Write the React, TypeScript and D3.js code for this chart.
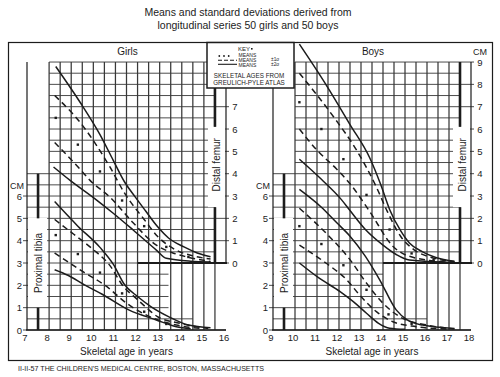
import React from 'react';
import * as d3 from 'd3';

type Pt = [number, number];

// ---------- data ----------
const girlsYears = [7, 8, 9, 10, 11, 12, 13, 14, 15, 16];
const boysYears = [9, 10, 11, 12, 13, 14, 15, 16, 17, 18];
const tibiaTicks = [0, 1, 2, 3, 4, 5, 6];
const girlsFemurTicks = [0, 1, 2, 3, 4, 5, 6, 7];
const boysFemurTicks = [0, 1, 2, 3, 4, 5, 6, 7, 8, 9];

// Girls, distal femur (skeletal age, cm)
const gFemP2: Pt[] = [[8.3, 8.8], [9.4, 7.2], [10.3, 5.75], [10.9, 4.6], [11.4, 3.65], [11.9, 2.95], [12.35, 2.35], [12.9, 1.63], [13.4, 1.12], [14.1, 0.72], [14.7, 0.45], [15.3, 0.28]];
const gFemP1: Pt[] = [[8.25, 7.5], [9.4, 6.3], [10.75, 4.3], [11.4, 3.15], [12.3, 1.95], [12.9, 1.2], [13.7, 0.6], [14.5, 0.32], [15.3, 0.18]];
const gFemMean: Pt[] = [[8.3, 6.5], [9.3, 5.3], [10.3, 4.1], [11.3, 2.8], [12.3, 1.65], [13.3, 0.72], [14.3, 0.27]];
const gFemM1: Pt[] = [[8.25, 5.4], [9.4, 4.2], [9.85, 3.7], [10.75, 2.95], [11.8, 1.8], [12.85, 0.8], [13.6, 0.45], [14.2, 0.28], [15.3, 0.07]];
const gFemM2: Pt[] = [[8.2, 4.3], [8.95, 3.7], [10.15, 2.82], [10.9, 2.23], [11.8, 1.48], [12.85, 0.58], [13.3, 0.21], [14.4, 0.08], [15.3, 0.05]];

// Girls, proximal tibia
const gTibP2: Pt[] = [[8.25, 5.75], [9.3, 4.65], [10.3, 3.7], [10.9, 2.95], [11.4, 2.05], [12.0, 1.5], [12.6, 1.05], [13.4, 0.6], [14.3, 0.22], [15.3, 0.1]];
const gTibP1: Pt[] = [[8.25, 4.95], [9.1, 4.3], [10.0, 3.6], [10.7, 2.95], [11.4, 1.9], [11.9, 1.45], [12.4, 1.0], [12.9, 0.6], [13.9, 0.3], [15.2, 0.07]];
const gTibMean: Pt[] = [[8.3, 4.25], [9.3, 3.4], [10.3, 2.57], [11.3, 1.64], [12.3, 0.82], [13.3, 0.27]];
const gTibM1: Pt[] = [[8.25, 3.45], [9.55, 2.6], [10.6, 1.95], [11.5, 1.2], [12.55, 0.6], [13.75, 0.22], [14.8, 0.08]];
const gTibM2: Pt[] = [[8.25, 2.7], [8.85, 2.45], [9.6, 2.02], [10.4, 1.6], [11.6, 0.9], [12.85, 0.45], [13.75, 0.15], [14.4, 0.06]];

// Boys, distal femur
const bFemP2: Pt[] = [[10.2, 9.8], [11.4, 8.0], [12.5, 6.2], [13.4, 4.7], [13.9, 3.5], [14.3, 2.4], [14.8, 1.45], [15.2, 0.9], [15.8, 0.5], [16.4, 0.25], [17.25, 0.08]];
const bFemP1: Pt[] = [[10.2, 8.5], [11.75, 6.55], [12.8, 5.05], [13.7, 3.4], [14.2, 2.3], [14.8, 1.2], [15.4, 0.6], [16.2, 0.25], [17.25, 0.06]];
const bFemMean: Pt[] = [[10.2, 7.2], [11.2, 6.0], [12.2, 4.65], [13.25, 3.05], [14.3, 1.5], [15.3, 0.43], [16.3, 0.13]];
const bFemM1: Pt[] = [[10.2, 6.0], [11.0, 5.05], [11.9, 4.2], [12.5, 3.55], [13.4, 2.3], [14.45, 0.75], [15.5, 0.22], [17.25, 0.02]];
const bFemM2: Pt[] = [[10.2, 4.65], [11.2, 3.75], [12.1, 2.85], [12.5, 2.35], [13.2, 1.5], [14.0, 0.8], [14.6, 0.38], [15.2, 0.13], [17.25, 0.02]];

// Boys, proximal tibia
const bTibP2: Pt[] = [[10.2, 6.3], [11.2, 5.5], [11.9, 4.8], [12.5, 4.2], [13.2, 3.3], [13.85, 2.25], [14.6, 0.9], [15.1, 0.45], [15.8, 0.22], [17.25, 0.07]];
const bTibP1: Pt[] = [[10.2, 5.45], [11.4, 4.35], [12.5, 3.15], [13.25, 2.1], [14.0, 1.2], [14.75, 0.6], [16.0, 0.22], [17.25, 0.05]];
const bTibMean: Pt[] = [[10.2, 4.65], [11.2, 3.85], [12.2, 2.9], [13.25, 1.8], [14.25, 0.7], [15.3, 0.28]];
const bTibM1: Pt[] = [[10.2, 3.8], [11.4, 3.0], [12.35, 2.25], [12.95, 1.55], [13.7, 0.82], [14.45, 0.37], [15.5, 0.15], [17.0, 0.04]];
const bTibM2: Pt[] = [[10.2, 3.0], [11.1, 2.32], [12.05, 1.72], [12.65, 1.27], [13.25, 0.75], [13.8, 0.3], [14.3, 0.08], [15.0, 0.03]];

const FEMUR_OFFSET = 3; // femur 0 sits at tibia 3 cm

const FONT = "'Liberation Sans', Arial, Helvetica, sans-serif";
const INK = '#1c1c1c';

const yT = d3.scaleLinear().domain([0, 12]).range([330, 330 - 12 * 22.33]);

interface Group { p2: Pt[]; p1: Pt[]; mean: Pt[]; m1: Pt[]; m2: Pt[] }
interface PanelProps {
  title: string;
  years: number[];
  range: [number, number];
  femur: Group;
  tibia: Group;
  femurTicks: number[];
  femurCM: boolean;
  tibiaShortEnd: number;
  tibiaHalfEnd: number;
}

function Panel({ title, years, range, femur, tibia, femurTicks, femurCM, tibiaShortEnd, tibiaHalfEnd }: PanelProps) {
  const F = years[0];
  const L = years[years.length - 1];
  const x = d3.scaleLinear().domain([F, L]).range(range);
  const top = yT(12);

  const vLines = d3.range(F + 1, L - 0.49, 0.5);
  const hVals = d3.range(0, 12.01, 0.5);
  const hSeg = (v: number): [number, number] => {
    const isInt = Math.abs(v - Math.round(v)) < 1e-6;
    let x0 = v <= 7 ? x(F) : x(F + 1);
    if (isInt && v <= 6) x0 = x(F) - 4;
    let x1: number;
    if (v >= 3) x1 = isInt ? x(L) + 3 : x(L - 0.5);
    else if (v >= 1) x1 = x(tibiaShortEnd);
    else if (v > 0) x1 = x(tibiaHalfEnd);
    else x1 = x(L);
    return [x0, x1];
  };

  const lineT = d3.line<Pt>().x(d => x(d[0])).y(d => yT(d[1])).curve(d3.curveMonotoneX);
  const lineF = d3.line<Pt>().x(d => x(d[0])).y(d => yT(d[1] + FEMUR_OFFSET)).curve(d3.curveMonotoneX);

  const barTX = x(F + 0.5);
  const barFX = x(L - 0.5);
  const labTX = x(F) - 7.5;
  const labFX = x(L) + 9;

  return (
    <g>
      <g stroke="#383838">
        {vLines.map(v => (
          <line key={'v' + v} x1={x(v)} x2={x(v)} y1={top} y2={yT(0)} strokeWidth={1.25} />
        ))}
        {hVals.map(v => {
          const [a, b] = hSeg(v);
          return <line key={'h' + v} x1={a} x2={b} y1={yT(v)} y2={yT(v)} strokeWidth={0.9} />;
        })}
      </g>
      <line x1={x(F)} x2={x(F)} y1={top} y2={yT(0)} stroke={INK} strokeWidth={1.2} />
      <line x1={x(L)} x2={x(L)} y1={top} y2={yT(FEMUR_OFFSET)} stroke={INK} strokeWidth={1.2} />
      <line x1={x(L - 4)} x2={x(L) + 1} y1={yT(FEMUR_OFFSET)} y2={yT(FEMUR_OFFSET)} stroke={INK} strokeWidth={2} />
      <line x1={x(F) - 1} x2={x(L)} y1={yT(0)} y2={yT(0)} stroke={INK} strokeWidth={1.4} />

      <rect x={x(F) + 1} y={yT(5) - 0.5} width={x(F + 1) - x(F) - 3} height={yT(1) - yT(5) - 1} fill="#fff" />
      <rect x={barFX - 7} y={yT(6.1 + FEMUR_OFFSET)} width={x(L) - barFX + 6} height={yT(2.5 + FEMUR_OFFSET) - yT(6.1 + FEMUR_OFFSET)} fill="#fff" />

      <g stroke={INK} strokeWidth={2.6}>
        <line x1={barTX} x2={barTX} y1={yT(7)} y2={yT(5)} />
        <line x1={barTX} x2={barTX} y1={yT(1)} y2={yT(0)} />
        <line x1={barFX} x2={barFX} y1={yT(9 + FEMUR_OFFSET)} y2={yT(6.1 + FEMUR_OFFSET)} />
        <line x1={barFX} x2={barFX} y1={yT(2.5 + FEMUR_OFFSET)} y2={yT(FEMUR_OFFSET)} />
      </g>

      <g fill="none" stroke={INK} strokeWidth={1.5}>
        <path d={lineF(femur.p2) || ''} />
        <path d={lineF(femur.m2) || ''} />
        <path d={lineF(femur.p1) || ''} strokeDasharray="6,4" />
        <path d={lineF(femur.m1) || ''} strokeDasharray="6,4" />
        <path d={lineT(tibia.p2) || ''} />
        <path d={lineT(tibia.m2) || ''} />
        <path d={lineT(tibia.p1) || ''} strokeDasharray="6,4" />
        <path d={lineT(tibia.m1) || ''} strokeDasharray="6,4" />
      </g>
      <g fill={INK}>
        {femur.mean.map((d, i) => (
          <rect key={'fm' + i} x={x(d[0]) - 1.2} y={yT(d[1] + FEMUR_OFFSET) - 1.2} width={2.4} height={2.4} />
        ))}
        {tibia.mean.map((d, i) => (
          <rect key={'tm' + i} x={x(d[0]) - 1.2} y={yT(d[1]) - 1.2} width={2.4} height={2.4} />
        ))}
      </g>

      <g fontFamily={FONT} fill={INK}>
        <text x={(x(F) + x(L)) / 2 + 1} y={55} fontSize={10} textAnchor="middle">{title}</text>
        {years.map(v => (
          <text key={'xl' + v} x={x(v) - 2} y={341} fontSize={9.5} textAnchor="middle">{v}</text>
        ))}
        <text x={(x(F) + x(L)) / 2} y={355} fontSize={10} textAnchor="middle">Skeletal age in  years</text>
        {tibiaTicks.map(v => (
          <text key={'tl' + v} x={labTX} y={yT(v) + 3.5} fontSize={9.5} textAnchor="middle">{v}</text>
        ))}
        <text x={x(F) - 10} y={yT(6.45) + 3.5} fontSize={9} textAnchor="middle">CM</text>
        {femurTicks.map(v => (
          <text key={'fl' + v} x={labFX} y={yT(v + FEMUR_OFFSET) + 3.5} fontSize={9.5} textAnchor="middle">{v}</text>
        ))}
        {femurCM && <text x={labFX} y={yT(12.45) + 3.5} fontSize={9} textAnchor="middle">CM</text>}
        <text transform={`translate(${barTX + 3.5},${yT(3)}) rotate(-90)`} fontSize={10} textAnchor="middle">Proximal tibia</text>
        <text transform={`translate(${barFX + 5.5},${yT(4.4 + FEMUR_OFFSET)}) rotate(-90)`} fontSize={10} textAnchor="middle">Distal femur</text>
      </g>
    </g>
  );
}

export default function App() {
  return (
    <svg width={500} height={377} viewBox="0 0 500 377" style={{ position: 'absolute', left: 0, top: 0, background: '#fff' }}>
      <rect x={0} y={0} width={500} height={377} fill="#fff" />
      <g fontFamily={FONT} fill={INK} textAnchor="middle">
        <text x={248} y={15.5} fontSize={10.5}>Means and  standard deviations derived from</text>
        <text x={248} y={28.5} fontSize={10.5}>longitudinal series 50 girls and 50 boys</text>
      </g>
      <rect x={8.5} y={42.5} width={484} height={318} fill="none" stroke={INK} strokeWidth={1.2} />
      <Panel
        title="Girls"
        years={girlsYears}
        range={[27, 226]}
        femur={{ p2: gFemP2, p1: gFemP1, mean: gFemMean, m1: gFemM1, m2: gFemM2 }}
        tibia={{ p2: gTibP2, p1: gTibP1, mean: gTibMean, m1: gTibM1, m2: gTibM2 }}
        femurTicks={girlsFemurTicks}
        femurCM={false}
        tibiaShortEnd={13.4}
        tibiaHalfEnd={14.5}
      />
      <Panel
        title="Boys"
        years={boysYears}
        range={[273, 471]}
        femur={{ p2: bFemP2, p1: bFemP1, mean: bFemMean, m1: bFemM1, m2: bFemM2 }}
        tibia={{ p2: bTibP2, p1: bTibP1, mean: bTibMean, m1: bTibM1, m2: bTibM2 }}
        femurTicks={boysFemurTicks}
        femurCM={true}
        tibiaShortEnd={14.0}
        tibiaHalfEnd={16}
      />
      <g>
        <rect x={207} y={42.5} width={87} height={45.5} fill="#fff" stroke={INK} strokeWidth={1.5} />
        <g fontFamily={FONT} fill={INK}>
          <text x={244} y={50.5} fontSize={6} textAnchor="middle">KEY</text>
          <rect x={251} y={48} width={1.6} height={1.6} />
          {[219.3, 224, 228.7].map(cx => (
            <circle key={cx} cx={cx} cy={56} r={0.9} />
          ))}
          <text x={238.5} y={57} fontSize={5}>MEANS</text>
          <text x={238.5} y={62.2} fontSize={5}>MEANS</text>
          <text x={238.5} y={67.4} fontSize={5}>MEANS</text>
          <text x={271} y={61.2} fontSize={4.8}>±1σ</text>
          <text x={271} y={66.4} fontSize={4.8}>±2σ</text>
          <text x={249} y={77.5} fontSize={6.3} textAnchor="middle">SKELETAL AGES FROM</text>
          <text x={249} y={85} fontSize={6.3} textAnchor="middle">GREULICH-PYLE ATLAS</text>
        </g>
        <line x1={218} x2={237} y1={60.3} y2={60.3} stroke={INK} strokeWidth={1.1} strokeDasharray="4,2" />
        <line x1={218} x2={237} y1={64.3} y2={64.3} stroke={INK} strokeWidth={1.1} />
      </g>
      <text x={18} y={371} fontFamily={FONT} fontSize={7.1} fill={INK}>II-II-57 THE CHILDREN'S MEDICAL CENTRE, BOSTON, MASSACHUSETTS</text>
    </svg>
  );
}
